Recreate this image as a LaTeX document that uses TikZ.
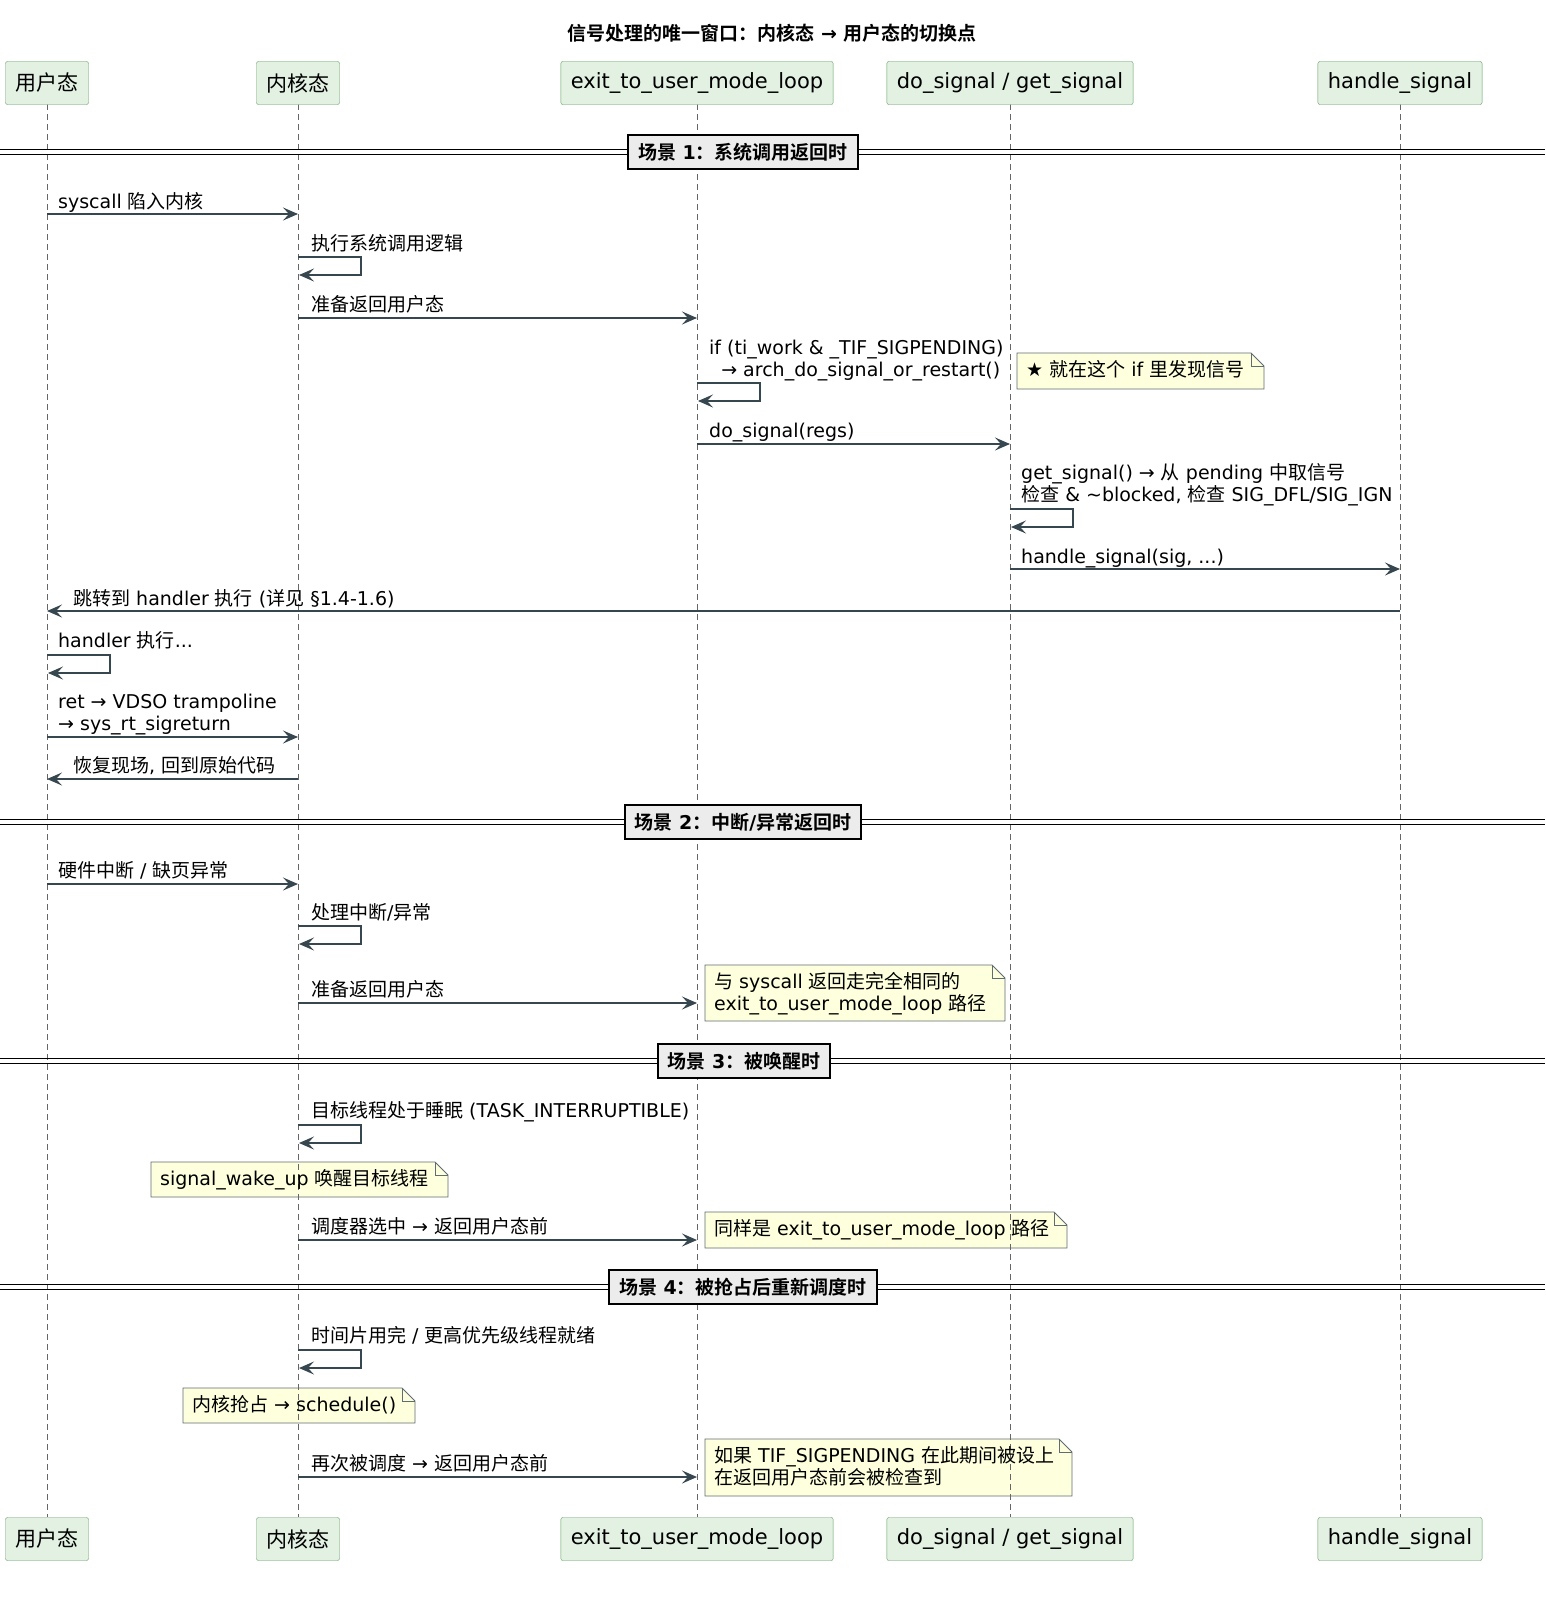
\documentclass[tikz,border=0pt]{standalone}
\usepackage{fontspec}
\setmainfont{DejaVu Sans}
\newfontfamily\cjk{Noto Sans CJK SC}[BoldFont=Noto Sans CJK SC Bold]
\usetikzlibrary{arrows.meta,backgrounds}
\XeTeXinterchartokenstate=1
\newXeTeXintercharclass\cjkcls
\makeatletter
\count@="4E00 \loop\ifnum\count@<"A000 \XeTeXcharclass\count@=\cjkcls \advance\count@ 1 \repeat
\count@="3000 \loop\ifnum\count@<"3040 \XeTeXcharclass\count@=\cjkcls \advance\count@ 1 \repeat
\count@="FF00 \loop\ifnum\count@<"FFF0 \XeTeXcharclass\count@=\cjkcls \advance\count@ 1 \repeat
\makeatother
\XeTeXinterchartoks 0 \cjkcls = {\begingroup\cjk}
\XeTeXinterchartoks 4095 \cjkcls = {\begingroup\cjk}
\XeTeXinterchartoks \cjkcls 0 = {\endgroup}
\XeTeXinterchartoks \cjkcls 4095 = {\endgroup}
\definecolor{ln}{HTML}{37474F}
\definecolor{partf}{HTML}{E2F1E2}
\definecolor{partd}{HTML}{5E9B5E}
\definecolor{notef}{HTML}{FEFFDD}
\tikzset{
  part/.style={draw=partd,fill=partf,rounded corners=2pt,minimum height=43pt,font=\fontsize{21}{23}\selectfont,inner xsep=10pt},
  life/.style={draw=gray!80!black,dash pattern=on 6pt off 4pt,line width=0.7pt},
  msg/.style={draw=ln,line width=1.2pt,-{Stealth[length=15pt,width=13pt,inset=6pt]}},
  lab/.style={anchor=base west,font=\fontsize{19}{22}\selectfont,inner sep=0pt,align=left},
  sep/.style={draw=black,line width=2pt,fill=gray!15,font=\bfseries\fontsize{19}{22}\selectfont,minimum height=34pt,inner xsep=10pt},
  notet/.style={anchor=north west,font=\fontsize{19}{22}\selectfont,align=left,inner sep=0pt},
  notec/.style={draw=ln!80,fill=notef,line width=0.8pt},
}
\newcommand\mynote[6]{% name, x1,y1,x2,y2, text
  \coordinate (#1nw) at (#2,#3); \coordinate (#1se) at (#4,#5);
  \begin{scope}[on background layer]
  \draw[notec] (#1nw) -- ([xshift=-13pt]#1nw-|#1se) -- ([yshift=-13pt]#1nw-|#1se) -- (#1se) -- (#1nw|-#1se) -- cycle;
  \draw[notec,fill=none] ([xshift=-13pt]#1nw-|#1se) |- ([yshift=-13pt]#1nw-|#1se);
  \end{scope}
  \node[notet] (#1) at ([xshift=9pt,yshift=-7pt]#1nw) {#6};}
\newcommand\sepline[1]{\draw[line width=1pt] (0,#1-3) -- (1545,#1-3) (0,#1+2) -- (1545,#1+2);}
\begin{document}
\begin{tikzpicture}[x=1pt,y=-1pt]
\useasboundingbox (0,0) rectangle (1545,1619);
\node[font=\bfseries\fontsize{19}{22}\selectfont] (title) at (772,33) {信号处理的唯一窗口：内核态 → 用户态的切换点};
% lifelines
\foreach \n/\x/\t in {u/47/{用户态},k/298/{内核态},e/697/{exit\_to\_user\_mode\_loop},d/1010/{do\_signal / get\_signal},h/1400/{handle\_signal}}{
  \draw[life] (\x,104) -- (\x,1517);
  \node[part] (\n top) at (\x,83) {\t};
  \node[part] (\n bot) at (\x,1539) {\t};
}
% separators
\sepline{152}
\node[sep] (s1) at (743,152) {场景 1：系统调用返回时};
\sepline{822}
\node[sep] (s2) at (743,822) {场景 2：中断/异常返回时};
\sepline{1061}
\node[sep] (s3) at (744,1061) {场景 3：被唤醒时};
\sepline{1287}
\node[sep] (s4) at (743,1287) {场景 4：被抢占后重新调度时};
\newcommand\m[4]{\coordinate (#1a) at (#2,#4); \coordinate (#1b) at (#3,#4); \draw[msg] (#1a) -- (#1b);}
\newcommand\self[3]{\coordinate (#1) at (#2,#3); \draw[msg] (#1) -- ++(63,0) -- ++(0,18) -- ++(-62,0);}
\m{m1}{47}{298}{214} \node[lab] (l1) at (58,208) {syscall 陷入内核};
\self{m2}{298}{257} \node[lab] (l2) at (311,250) {执行系统调用逻辑};
\m{m3}{298}{697}{318} \node[lab] (l3) at (311,311) {准备返回用户态};
\self{m4}{697}{383} \node[lab] (l4) at (709,376) {if (ti\_work \& \_TIF\_SIGPENDING)\\\ \ → arch\_do\_signal\_or\_restart()};
\mynote{n1}{1017}{353}{1264}{389}{★ 就在这个 if 里发现信号}
\m{m5}{697}{1010}{444} \node[lab] (l5) at (709,437) {do\_signal(regs)};
\self{m6}{1010}{509} \node[lab] (l6) at (1021,501) {get\_signal() → 从 pending 中取信号\\检查 \& \textasciitilde blocked, 检查 SIG\_DFL/SIG\_IGN};
\m{m7}{1010}{1400}{569} \node[lab] (l7) at (1021,563) {handle\_signal(sig, ...)};
\m{m8}{1400}{47}{611} \node[lab] (l8) at (73,605) {跳转到 handler 执行 (详见 §1.4-1.6)};
\self{m9}{47}{655} \node[lab] (l9) at (58,647) {handler 执行...};
\m{m10}{47}{298}{737} \node[lab] (l10) at (58,730) {ret → VDSO trampoline\\→ sys\_rt\_sigreturn};
\m{m11}{298}{47}{779} \node[lab] (l11) at (73,772) {恢复现场, 回到原始代码};
\m{m12}{47}{298}{884} \node[lab] (l12) at (58,877) {硬件中断 / 缺页异常};
\self{m13}{298}{926} \node[lab] (l13) at (311,919) {处理中断/异常};
\m{m14}{298}{697}{1003} \node[lab] (l14) at (311,996) {准备返回用户态};
\mynote{n2}{705}{965}{1005}{1021}{与 syscall 返回走完全相同的\\exit\_to\_user\_mode\_loop 路径}
\self{m15}{298}{1125} \node[lab] (l15) at (311,1117) {目标线程处于睡眠 (TASK\_INTERRUPTIBLE)};
\mynote{n3}{151}{1162}{448}{1197}{signal\_wake\_up 唤醒目标线程}
\m{m16}{298}{697}{1240} \node[lab] (l16) at (311,1233) {调度器选中 → 返回用户态前};
\mynote{n4}{705}{1212}{1067}{1248}{同样是 exit\_to\_user\_mode\_loop 路径}
\self{m17}{298}{1350} \node[lab] (l17) at (311,1342) {时间片用完 / 更高优先级线程就绪};
\mynote{n5}{183}{1388}{415}{1423}{内核抢占 → schedule()}
\m{m18}{298}{697}{1477} \node[lab] (l18) at (311,1470) {再次被调度 → 返回用户态前};
\mynote{n6}{705}{1439}{1072}{1496}{如果 TIF\_SIGPENDING 在此期间被设上\\在返回用户态前会被检查到}
\end{tikzpicture}
\end{document}
